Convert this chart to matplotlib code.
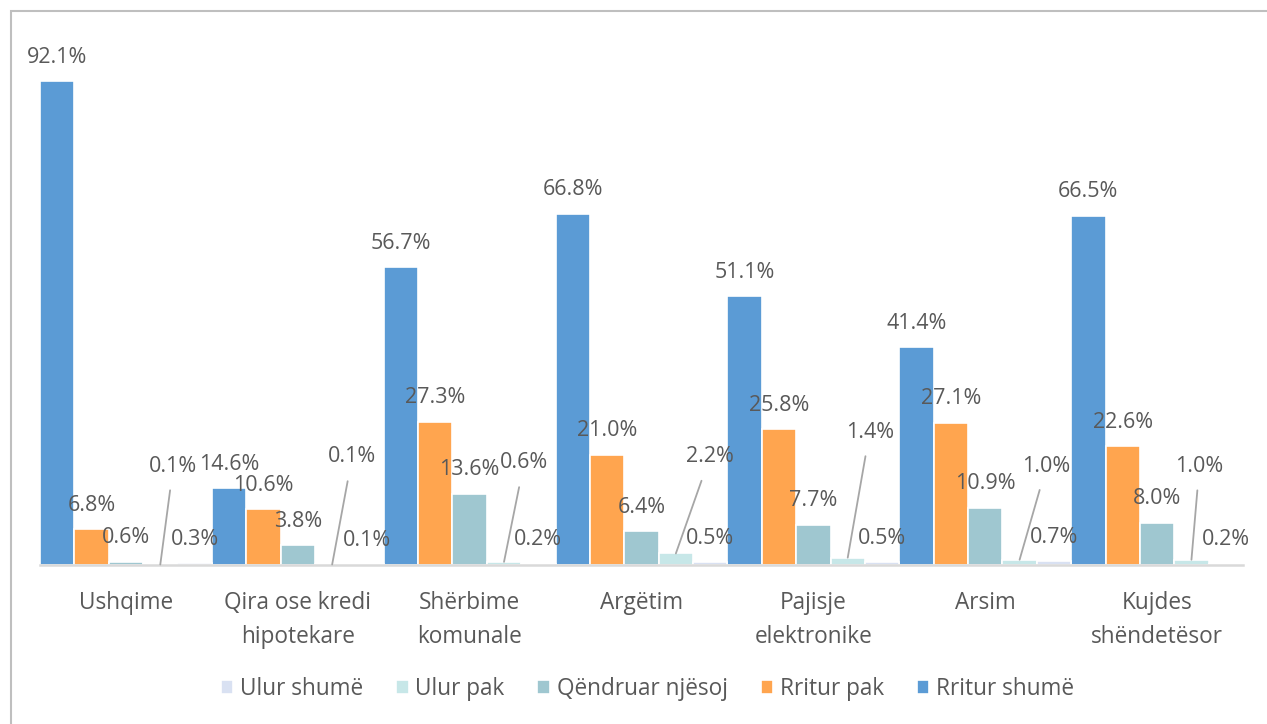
import matplotlib.pyplot as plt
import numpy as np
from matplotlib.patches import Rectangle

plt.rcParams['font.family'] = ['Open Sans', 'DejaVu Sans']

categories = ['Ushqime', 'Qira ose kredi\nhipotekare', 'Shërbime\nkomunale', 'Argëtim',
              'Pajisje\nelektronike', 'Arsim', 'Kujdes\nshëndetësor']
series_names = ['Rritur shumë', 'Rritur pak', 'Qëndruar njësoj', 'Ulur pak', 'Ulur shumë']
rritur_shume = [92.1, 14.6, 56.7, 66.8, 51.1, 41.4, 66.5]
rritur_pak = [6.8, 10.6, 27.3, 21.0, 25.8, 27.1, 22.6]
qendruar = [0.6, 3.8, 13.6, 6.4, 7.7, 10.9, 8.0]
ulur_pak = [0.1, 0.1, 0.6, 2.2, 1.4, 1.0, 1.0]
ulur_shume = [0.3, 0.1, 0.2, 0.5, 0.5, 0.7, 0.2]

colors = ['#5B9BD5', '#FFA54F', '#9FC7D0', '#C7E7E8', '#D9E1F2']
text_col = '#595959'

# moved labels of "Ulur pak" (pixels: dx from bar centre, height above baseline)
ulur_pak_dx = [13, 20, 20, 34, 22, 27, 8]
ulur_pak_h = [99, 108, 102, 108, 133, 99, 99]

W, H = 1267, 724
fig = plt.figure(figsize=(W / 100, H / 100), dpi=100)
ax = fig.add_axes([40 / W, 1 - 565 / H, (1243 - 40) / W, (565 - 39.5) / H])

x = np.arange(len(categories))
bw = 0.2
all_vals = [rritur_shume, rritur_pak, qendruar, ulur_pak, ulur_shume]
for k, (vals, name, c) in enumerate(zip(all_vals, series_names, colors)):
    ax.bar(x + (k - 2) * bw, vals, bw, color=c, edgecolor='white', linewidth=1.2, label=name)

ax.set_xlim(-0.5, len(categories) - 0.5)
ax.set_ylim(0, 100)
for s in ['top', 'right', 'left']:
    ax.spines[s].set_visible(False)
ax.spines['bottom'].set_color('#D9D9D9')
ax.spines['bottom'].set_linewidth(1.8)
ax.set_yticks([])
ax.set_xticks(x)
ax.set_xticklabels(categories, fontsize=16.3, color=text_col, linespacing=1.55)
ax.tick_params(axis='x', length=0, pad=19)

# regular labels above bars
for k, vals in enumerate(all_vals):
    if k == 3:
        continue
    for i, v in enumerate(vals):
        ax.annotate(f'{v:.1f}%', (x[i] + (k - 2) * bw, v), xytext=(0, 24),
                    textcoords='offset pixels', ha='center', va='center',
                    fontsize=15.5, color=text_col)

# Ulur pak labels with leader lines
ppu = ax.transData.transform((0, 1))[1] - ax.transData.transform((0, 0))[1]
for i, v in enumerate(ulur_pak):
    xb = x[i] + bw
    ax.annotate(f'{v:.1f}%', (xb, v), xytext=(ulur_pak_dx[i], ulur_pak_h[i] - v * ppu),
                textcoords='offset pixels', ha='center', va='center',
                fontsize=15.5, color=text_col,
                arrowprops=dict(arrowstyle='-', color='#A6A6A6', lw=1.3, shrinkA=8, shrinkB=0))

handles, labels = ax.get_legend_handles_labels()
fig.legend(handles[::-1], labels[::-1], loc='center', bbox_to_anchor=(0.511, 1 - 689 / H),
           ncol=5, frameon=False, fontsize=16.3, labelcolor=text_col,
           handlelength=0.55, handleheight=0.55, handletextpad=0.3, columnspacing=1.45)

fig.patches.append(Rectangle((10.5 / W, -0.1), 1.2, 1 - 10.5 / H + 0.1, transform=fig.transFigure,
                             fill=False, edgecolor='#BFBFBF', linewidth=1.5))

plt.savefig('out.png', dpi=100)
